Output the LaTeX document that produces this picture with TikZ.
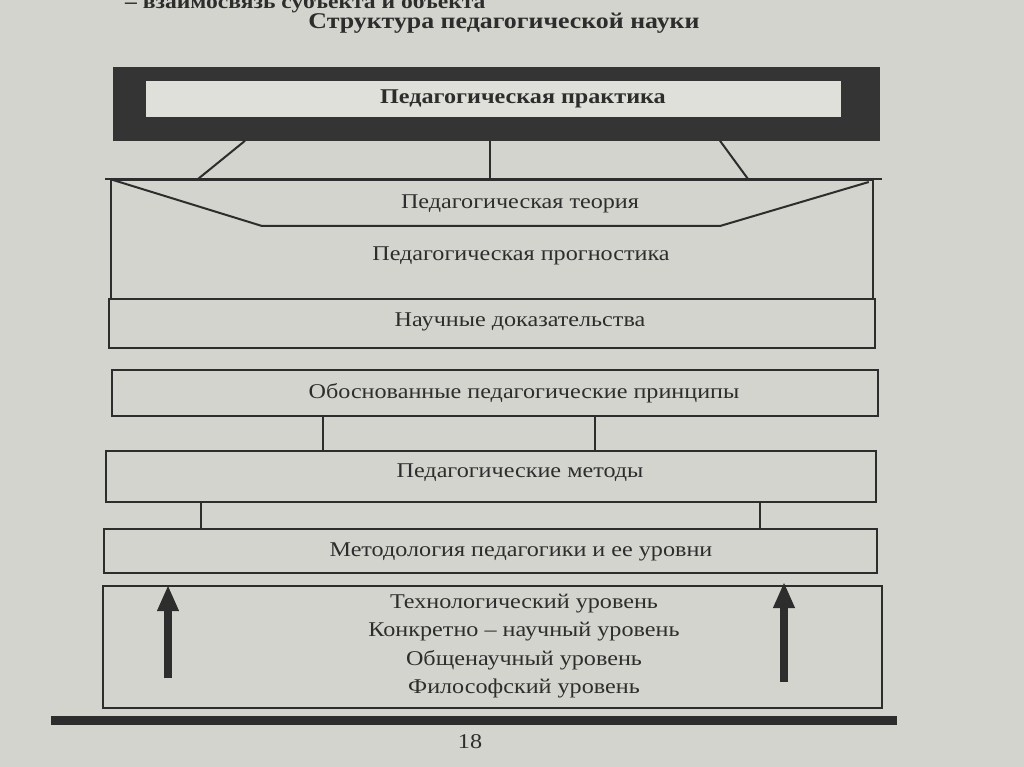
\documentclass[tikz,border=0pt]{standalone}
\usepackage{fontspec}
\setmainfont{Liberation Serif}[FakeStretch=1.15]
\usetikzlibrary{arrows.meta}
\definecolor{paper}{RGB}{212,212,206}
\definecolor{ink}{RGB}{45,45,45}
\definecolor{frame}{RGB}{52,52,52}
\definecolor{inner}{RGB}{224,224,218}
\begin{document}
\begin{tikzpicture}[x=1pt,y=-1pt,
  box/.style={draw=ink, line width=1.8pt, inner sep=0pt, anchor=north west},
  lbl/.style={text=ink, inner sep=0pt, font=\fontsize{21}{25}\selectfont},
  conn/.style={draw=ink, line width=2pt},
  bigarrow/.style={draw=ink, line width=8pt, -{Triangle[length=26pt,width=20pt]}}]
\useasboundingbox (0,0) rectangle (1024,767);
\fill[paper] (0,0) rectangle (1024,767);
% cut-off text at the top
\node[text=ink, anchor=base west, inner sep=0pt, font=\fontsize{20.5}{24}\selectfont\bfseries] (cut) at (125,9) {– взаимосвязь субъекта и объекта};
% title
\node[text=ink, inner sep=0pt, font=\fontsize{22.5}{27}\selectfont\bfseries] (title) at (504,23) {Структура педагогической науки};
% practice frame
\node[box, fill=frame, draw=frame, minimum width=765pt, minimum height=72pt] (prac) at (113,67) {};
\node[box, fill=inner, draw=none, minimum width=695pt, minimum height=36pt] (pracin) at (145,80) {};
\node[lbl, font=\fontsize{21}{25}\selectfont\bfseries] (pract) at (523,99) {Педагогическая практика};
% theory / prognostics box
\node[box, minimum width=762pt, minimum height=119pt] (big) at (110,179) {};
\draw[conn] ([xshift=-5pt]big.north west) -- ([xshift=8pt]big.north east);
\coordinate (tl) at (262,226);
\coordinate (tr) at (720,226);
\draw[conn, line join=round] ([xshift=3pt,yshift=-1pt]big.north west) -- (tl) -- (tr) -- ([xshift=-5pt,yshift=-3pt]big.north east);
\node[lbl] (theory) at (520,204) {Педагогическая теория};
\node[lbl] (progn) at (521,256) {Педагогическая прогностика};
% connectors practice -> theory
\draw[conn] ([xshift=132pt]prac.south west) -- ([xshift=88pt]big.north west);
\draw[conn] ([xshift=377pt]prac.south west) -- ([xshift=380pt]big.north west);
\draw[conn] ([xshift=607pt]prac.south west) -- ([xshift=638pt]big.north west);
% scientific evidence
\node[box, minimum width=766pt, minimum height=49pt] (nauch) at (108,298) {};
\node[lbl] (naucht) at (520,322) {Научные доказательства};
% principles
\node[box, minimum width=766pt, minimum height=46pt] (princ) at (111,369) {};
\node[lbl] (princt) at (524,393) {Обоснованные педагогические принципы};
% methods
\node[box, minimum width=770pt, minimum height=51pt] (meth) at (105,450) {};
\node[lbl] (metht) at (520,473) {Педагогические методы};
\draw[conn] ([xshift=212pt]princ.south west) -- ([xshift=218pt]meth.north west);
\draw[conn] ([xshift=484pt]princ.south west) -- ([xshift=490pt]meth.north west);
% methodology
\node[box, minimum width=773pt, minimum height=44pt] (metod) at (103,528) {};
\node[lbl] (metodt) at (521,552) {Методология педагогики и ее уровни};
\draw[conn] ([xshift=96pt]meth.south west) -- ([xshift=98pt]metod.north west);
\draw[conn] ([xshift=655pt]meth.south west) -- ([xshift=657pt]metod.north west);
% levels
\node[box, minimum width=779pt, minimum height=122pt] (levels) at (102,585) {};
\node[lbl, align=center, font=\fontsize{21}{28.5}\selectfont] (levelst) at (524,646) {Технологический уровень\\Конкретно – научный уровень\\Общенаучный уровень\\Философский уровень};
\coordinate (la0) at (168,678);
\coordinate (ra0) at (784,682);
\draw[bigarrow] (la0) -- (la0 |- levels.north);
\draw[bigarrow] (ra0) -- ([yshift=3pt]ra0 |- levels.north);
% bottom rule and page number
\coordinate (rule0) at (51,720);
\coordinate (rule1) at (897,720);
\draw[ink, line width=9pt] (rule0) -- (rule1);
\node[lbl] (pageno) at (470,742) {18};
\end{tikzpicture}
\end{document}
